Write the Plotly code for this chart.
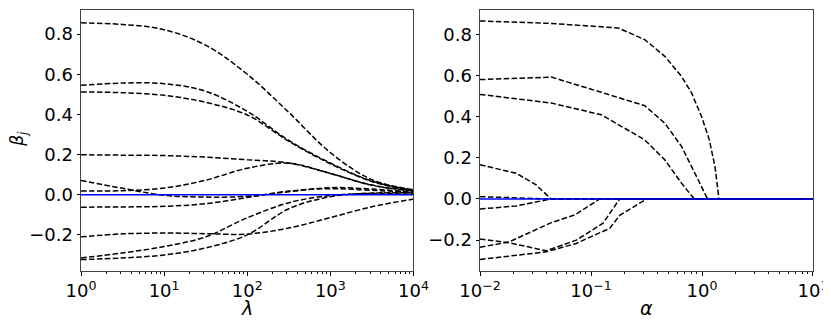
import plotly.graph_objects as go

# ---------------- Ridge paths (left panel) ----------------
ridge_lambda = [1, 3.1623, 10, 31.623, 100, 316.23, 1000, 3162.3, 10000]
ridge_A = [0.856, 0.848, 0.822, 0.745, 0.600, 0.410, 0.210, 0.075, 0.025]
ridge_B = [0.545, 0.556, 0.553, 0.515, 0.415, 0.270, 0.158, 0.068, 0.021]
ridge_C = [0.512, 0.508, 0.495, 0.460, 0.397, 0.266, 0.154, 0.066, 0.020]
ridge_D = [0.199, 0.197, 0.195, 0.187, 0.174, 0.158, 0.106, 0.048, 0.020]
ridge_E = [0.018, 0.020, 0.033, 0.072, 0.132, 0.157, 0.106, 0.047, 0.019]
ridge_F = [0.071, 0.032, -0.003, -0.012, -0.008, 0.015, 0.035, 0.028, 0.013]
ridge_G = [-0.062, -0.061, -0.058, -0.045, -0.014, 0.018, 0.030, 0.022, 0.011]
ridge_H = [-0.210, -0.195, -0.191, -0.194, -0.196, -0.166, -0.114, -0.060, -0.022]
ridge_I = [-0.315, -0.290, -0.258, -0.210, -0.115, -0.040, -0.004, 0.006, 0.008]
ridge_J = [-0.323, -0.315, -0.300, -0.265, -0.200, -0.070, -0.010, 0.008, 0.009]
ridge_blue = [0, 0, 0, 0, 0, 0, 0, 0, 0]
ridge_series = [ridge_A, ridge_B, ridge_C, ridge_D, ridge_E, ridge_F,
                ridge_G, ridge_H, ridge_I, ridge_J]

# ---------------- Lasso paths (right panel) ----------------
lasso_A_logalpha = [-2, -1.374, -0.756, -0.516, -0.335, -0.184, -0.094, -0.004, 0.066, 0.117, 0.153, 1]
lasso_A = [0.865, 0.853, 0.831, 0.774, 0.693, 0.595, 0.515, 0.400, 0.287, 0.157, 0, 0]
lasso_B_logalpha = [-2, -1.358, -0.907, -0.516, -0.335, -0.184, -0.064, 0.05, 1]
lasso_B = [0.580, 0.592, 0.518, 0.453, 0.368, 0.255, 0.125, 0, 0]
lasso_C_logalpha = [-2, -1.358, -0.907, -0.516, -0.335, -0.184, -0.07, 1]
lasso_C = [0.508, 0.466, 0.409, 0.287, 0.190, 0.076, 0, 0]
lasso_D_logalpha = [-2, -1.675, -1.494, -1.36, 1]
lasso_D = [0.166, 0.125, 0.068, 0, 0]
lasso_E_logalpha = [-2, -1.36, 1]
lasso_E = [0.011, 0, 0]
lasso_F_logalpha = [-2, -1.675, -1.36, 1]
lasso_F = [-0.049, -0.034, 0, 0]
lasso_G_logalpha = [-2, -1.735, -1.404, -1.133, -0.892, -0.742, 1]
lasso_G = [-0.195, -0.213, -0.252, -0.200, -0.118, 0, 0]
lasso_H_logalpha = [-2, -1.735, -1.358, -1.148, -0.922, 1]
lasso_H = [-0.235, -0.208, -0.115, -0.078, 0, 0]
lasso_I_logalpha = [-2, -1.675, -1.404, -1.133, -0.832, -0.742, -0.5, 1]
lasso_I = [-0.294, -0.273, -0.257, -0.216, -0.143, -0.080, 0, 0]
lasso_blue_logalpha = [-2, 1]
lasso_blue = [0, 0]
lasso_series = [
    (lasso_A_logalpha, lasso_A), (lasso_B_logalpha, lasso_B),
    (lasso_C_logalpha, lasso_C), (lasso_D_logalpha, lasso_D),
    (lasso_E_logalpha, lasso_E), (lasso_F_logalpha, lasso_F),
    (lasso_G_logalpha, lasso_G), (lasso_H_logalpha, lasso_H),
    (lasso_I_logalpha, lasso_I),
]

y_tickvals = [-0.2, 0.0, 0.2, 0.4, 0.6, 0.8]
y_ticktext = ["\u22120.2", "0.0", "0.2", "0.4", "0.6", "0.8"]
left_xtickvals = [1, 10, 100, 1000, 10000]
left_xticktext = ["10<sup>0</sup>", "10<sup>1</sup>", "10<sup>2</sup>", "10<sup>3</sup>", "10<sup>4</sup>"]
right_xtickvals = [0.01, 0.1, 1, 10]
right_xticktext = ["10<sup>\u22122</sup>", "10<sup>\u22121</sup>", "10<sup>0</sup>", "10<sup>1</sup>"]
x_title_left = "<i>λ</i>"
x_title_right = "<i>α</i>"
y_title = "<i>β</i><sub><i>j</i></sub>"

DASH = "5.5px,2.4px"
FONT = "DejaVu Sans"

fig = go.Figure()
for ys in ridge_series:
    fig.add_trace(go.Scatter(x=ridge_lambda, y=ys, mode="lines",
                             line=dict(color="black", width=1.5, dash=DASH, shape="spline", smoothing=1.0),
                             xaxis="x", yaxis="y", showlegend=False, hoverinfo="skip"))
fig.add_trace(go.Scatter(x=ridge_lambda, y=ridge_blue, mode="lines",
                         line=dict(color="blue", width=1.5),
                         xaxis="x", yaxis="y", showlegend=False))

for la, ys in lasso_series:
    fig.add_trace(go.Scatter(x=[10 ** v for v in la], y=ys, mode="lines",
                             line=dict(color="black", width=1.5, dash=DASH),
                             xaxis="x2", yaxis="y2", showlegend=False, hoverinfo="skip"))
fig.add_trace(go.Scatter(x=[10 ** v for v in lasso_blue_logalpha], y=lasso_blue, mode="lines",
                         line=dict(color="blue", width=1.5),
                         xaxis="x2", yaxis="y2", showlegend=False))

# The page adds an 8px body margin, so figure coordinates = screen - 8
OFF = 8
W, H = 831 - OFF, 326 - OFF
left_x0, left_x1 = 81.3 - OFF, 413.5 - OFF
right_x0, right_x1 = 480 - OFF, 812.7 - OFF
top_y, bot_y = 9.7 - OFF, 271 - OFF
L, R, T, B = left_x0, W - right_x1, top_y, H - bot_y
PW = W - L - R
PH = H - T - B

def px_to_paper_x(p):
    return (p - L) / PW

def px_to_paper_y(p):
    return (bot_y - p) / PH

minor_left = [m * 10 ** k for k in range(0, 4) for m in range(2, 10)]
minor_right = [m * 10 ** k for k in range(-2, 1) for m in range(2, 10)]

axis_common = dict(showgrid=False, zeroline=False, showline=True, mirror=True, automargin=False,
                   linecolor="#444444", linewidth=1, ticks="outside", ticklen=3.5,
                   tickwidth=0.8, tickcolor="black",
                   tickfont=dict(family=FONT, size=18, color="black"))
title_font = dict(family=FONT, size=19, color="black")

fig.update_layout(
    width=W, height=H,
    margin=dict(l=L, r=R, t=T, b=B, pad=0),
    paper_bgcolor="white", plot_bgcolor="white",
    xaxis=dict(type="log", range=[0, 4], domain=[0, (left_x1 - L) / PW], anchor="y",
               tickvals=left_xtickvals, ticktext=left_xticktext,
               minor=dict(tickvals=minor_left, ticks="outside", ticklen=2, tickwidth=0.6, tickcolor="black"),
               **axis_common),
    yaxis=dict(range=[-0.38, 0.92], domain=[0, 1], anchor="x",
               tickvals=y_tickvals, ticktext=y_ticktext,
               **axis_common),
    xaxis2=dict(type="log", range=[-2, 1], domain=[(right_x0 - L) / PW, 1], anchor="y2",
                tickvals=right_xtickvals, ticktext=right_xticktext,
                minor=dict(tickvals=minor_right, ticks="outside", ticklen=2, tickwidth=0.6, tickcolor="black"),
                **axis_common),
    yaxis2=dict(range=[-0.35, 0.918], domain=[0, 1], anchor="x2",
                tickvals=y_tickvals, ticktext=y_ticktext,
                **axis_common),
    annotations=[
        dict(text=x_title_left, xref="paper", yref="paper",
             x=px_to_paper_x((left_x0 + left_x1) / 2), y=px_to_paper_y(308 - OFF),
             xanchor="center", yanchor="middle", showarrow=False, font=title_font),
        dict(text=x_title_right, xref="paper", yref="paper",
             x=px_to_paper_x((right_x0 + right_x1) / 2), y=px_to_paper_y(308.5 - OFF),
             xanchor="center", yanchor="middle", showarrow=False, font=title_font),
        dict(text=y_title, xref="paper", yref="paper",
             x=px_to_paper_x(19 - OFF), y=px_to_paper_y(139 - OFF), textangle=-90,
             xanchor="center", yanchor="middle", showarrow=False, font=dict(family=FONT, size=17, color="black")),
    ],
)

fig.write_html("out.html")
